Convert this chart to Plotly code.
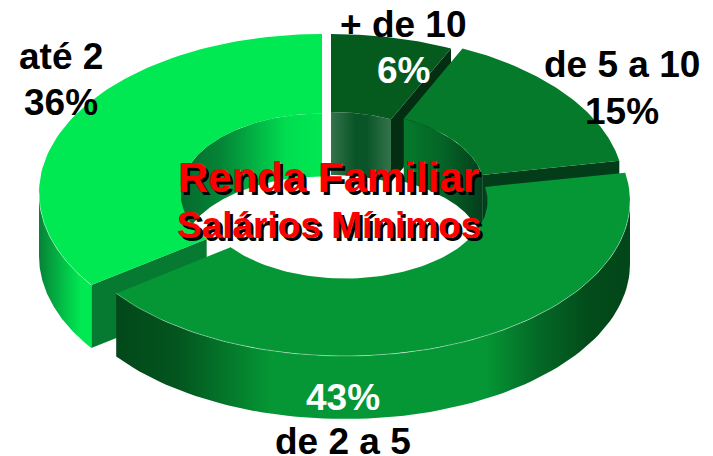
import numpy as np
import plotly.graph_objects as go

# data
labels = ["+ de 10", "de 5 a 10", "de 2 a 5", "até 2"]
values = [6, 15, 43, 36]
title_lines = ["Renda Familiar", "Salários Mínimos"]

# drawing constants (viewing distortion of the 3-D look, not data)
view_shift = [0.0, 3.3, 3.9, 3.0, 0.0]     # degrees added to cumulative boundaries
last_gap = 1.2                             # extra degrees where the last slice starts
hole = 0.5
depth = 63
geom = {  # apex x, apex y, rx, ry
    "+ de 10": (331, 190, 285, 156),
    "de 5 a 10": (345, 189, 279, 155),
    "de 2 a 5": (345, 201, 285, 155),
    "até 2": (322, 193, 283, 159),
}
top_col = {"+ de 10": "rgb(5,90,30)", "de 5 a 10": "rgb(5,122,43)",
           "de 2 a 5": "rgb(5,150,53)", "até 2": "rgb(0,232,82)"}
cut_col = {"+ de 10": "rgb(3,46,18)", "de 5 a 10": "rgb(3,60,24)", "até 2": "rgb(6,122,48)"}

cum = np.concatenate([[0], np.cumsum(values)]) * 360.0 / sum(values)
bounds = {l: (cum[i] + view_shift[i], cum[i + 1] + view_shift[i + 1]) for i, l in enumerate(labels)}
bounds["até 2"] = (bounds["até 2"][0] + last_gap, bounds["até 2"][1])


def arc(label, r, a, b, dy=0, n=80):
    ax, ay, rx, ry = geom[label]
    t = np.radians(np.linspace(a, b, n))
    return ax + r * rx * np.sin(t), ay + dy - r * ry * np.cos(t)


fig = go.Figure()


def poly(x, y, color=None, grad=None, x0=None, x1=None):
    kw = dict(x=list(x) + [x[0]], y=list(y) + [y[0]], mode="lines", fill="toself",
              line=dict(width=0), hoverinfo="skip", showlegend=False)
    if grad:
        kw["fillgradient"] = dict(type="horizontal", colorscale=grad, start=x0, stop=x1)
    else:
        kw["fillcolor"] = color
    fig.add_trace(go.Scatter(**kw))


def top(label):
    a, b = bounds[label]
    x1, y1 = arc(label, 1, a, b)
    x2, y2 = arc(label, hole, b, a)
    poly(np.r_[x1, x2], np.r_[y1, y2], top_col[label])


def wall(label, r, a, b, grad):
    x1, y1 = arc(label, r, a, b)
    x2, y2 = arc(label, r, b, a, depth)
    xs = np.r_[x1, x2]
    poly(xs, np.r_[y1, y2], grad=grad, x0=float(xs.min()), x1=float(xs.max()))


def cut(label, th):
    x1, y1 = arc(label, 1, th, th, n=1)
    x2, y2 = arc(label, hole, th, th, n=1)
    poly([x1[0], x2[0], x2[0], x1[0]], [y1[0], y2[0], y2[0] + depth, y1[0] + depth], cut_col[label])


def seam(label, a, b):
    x, y = arc(label, 1, a, b)
    fig.add_trace(go.Scatter(x=x, y=y, mode="lines", hoverinfo="skip", showlegend=False,
                             line=dict(color="rgba(255,255,255,0.55)", width=0.7)))


# + de 10
a, b = bounds["+ de 10"]
wall("+ de 10", hole, a, b, [[0, "rgb(52,115,76)"], [0.4, "rgb(10,85,40)"], [0.6, "rgb(10,85,40)"], [1, "rgb(52,115,76)"]])
cut("+ de 10", b)
top("+ de 10")

# até 2
a, b = bounds["até 2"]
wall("até 2", hole, 270, b, [[0, "rgb(4,105,45)"], [0.3, "rgb(4,135,55)"], [0.75, "rgb(0,222,80)"], [1, "rgb(0,232,82)"]])
cut("até 2", a)
wall("até 2", 1, a, 270, [[0, "rgb(6,130,55)"], [0.45, "rgb(2,190,70)"], [0.8, "rgb(0,232,82)"], [1, "rgb(0,232,82)"]])
top("até 2")
seam("até 2", a, 270)

# de 5 a 10
a, b = bounds["de 5 a 10"]
wall("de 5 a 10", hole, a, b, [[0, "rgb(5,122,43)"], [0.5, "rgb(4,100,38)"], [1, "rgb(3,62,28)"]])
cut("de 5 a 10", b)
top("de 5 a 10")

# de 2 a 5
a, b = bounds["de 2 a 5"]
wall("de 2 a 5", hole, a, 90, [[0, "rgb(3,75,30)"], [1, "rgb(2,55,22)"]])
wall("de 2 a 5", 1, 90, b, [[0, "rgb(2,72,26)"], [0.12, "rgb(3,85,30)"], [0.3, "rgb(5,150,53)"],
                            [0.72, "rgb(5,150,53)"], [0.82, "rgb(4,105,38)"], [0.92, "rgb(2,75,26)"], [1, "rgb(2,70,25)"]])
top("de 2 a 5")
seam("de 2 a 5", 90, b)

# text
SANS = "Liberation Sans, Arial, sans-serif"


def text(s, x, y, color, size):
    fig.add_annotation(x=x, y=y, text="<b>%s</b>" % s, showarrow=False, xref="x", yref="y",
                       xanchor="center", yanchor="middle", borderpad=0,
                       font=dict(family=SANS, size=size, color=color))


pct = {l: "%d%%" % v for l, v in zip(labels, values)}
text(labels[0], 403, 24, "black", 37)
text(pct[labels[0]], 403, 70, "white", 37)
text(labels[1], 622, 64, "black", 37)
text(pct[labels[1]], 622, 111, "black", 37)
text(labels[3], 61, 56, "black", 37)
text(pct[labels[3]], 61, 102, "black", 37)
text(pct[labels[2]], 343, 397, "white", 37)
text(labels[2], 343, 441, "black", 37)

for s, x, y, sz in [(title_lines[0], 328, 177, 42), (title_lines[1], 329, 225, 37)]:
    text(s, x + 3, y + 3, "black", sz)
    text(s, x, y, "#ff0000", sz)

fig.update_layout(width=713, height=456, margin=dict(l=0, r=0, t=0, b=0), autosize=False,
                  paper_bgcolor="white", plot_bgcolor="white", showlegend=False,
                  xaxis=dict(range=[0, 713], visible=False, fixedrange=True),
                  yaxis=dict(range=[456, 0], visible=False, fixedrange=True))
fig.write_html("out.html", config={"displayModeBar": False},
               post_script="document.body.style.margin='0';document.documentElement.style.overflow='hidden';")
